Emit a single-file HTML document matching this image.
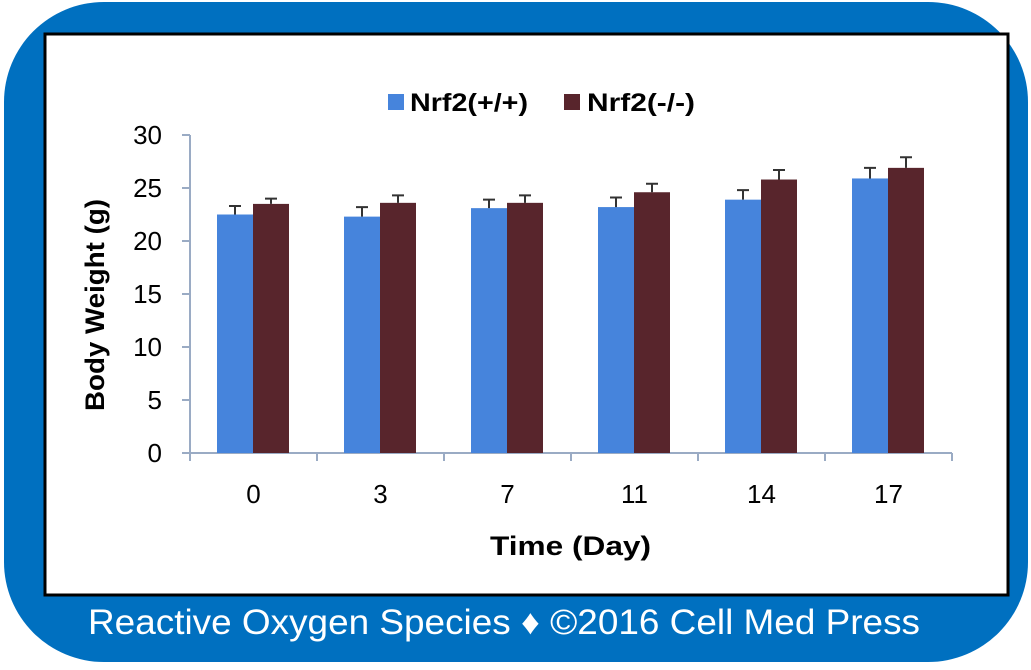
<!DOCTYPE html>
<html><head><meta charset="utf-8"><style>
body{margin:0;width:1031px;height:665px;background:#fff;overflow:hidden;font-family:"Liberation Sans",sans-serif}
</style></head><body>
<svg width="1031" height="665">
<rect x="4" y="2" width="1024" height="660" rx="100" fill="#0070c0"/>
<rect x="45" y="34" width="963" height="561" fill="#fff" stroke="#000" stroke-width="3"/>
<text x="88" y="634" textLength="832" lengthAdjust="spacingAndGlyphs" fill="#fff" font-size="35">Reactive Oxygen Species ♦ ©2016 Cell Med Press</text>
<g>
<rect x="388" y="94" width="16" height="16" fill="#4684dc"/>
<text x="410" y="111" textLength="118" lengthAdjust="spacingAndGlyphs" font-size="25" font-weight="bold" fill="#000">Nrf2(+/+)</text>
<rect x="564" y="94" width="16" height="16" fill="#58252c"/>
<text x="587" y="111" textLength="108" lengthAdjust="spacingAndGlyphs" font-size="25" font-weight="bold" fill="#000">Nrf2(-/-)</text>
</g>
<text transform="translate(104,305) rotate(-90)" text-anchor="middle" textLength="212" lengthAdjust="spacingAndGlyphs" font-size="27" font-weight="bold">Body Weight (g)</text>
<text x="490" y="555" textLength="161" lengthAdjust="spacingAndGlyphs" font-size="27" font-weight="bold">Time (Day)</text>
<g id="chart"></g>
</svg>
<script>
const categories=["0","3","7","11","14","17"];
const wtValues=[22.5,22.3,23.1,23.2,23.9,25.9];
const koValues=[23.5,23.6,23.6,24.6,25.8,26.9];
const wtErr=[0.8,0.9,0.8,0.9,0.9,1.0];
const koErr=[0.5,0.7,0.7,0.8,0.9,1.0];
const yTicks=[0,5,10,15,20,25,30];
const NS="http://www.w3.org/2000/svg";
const g=document.getElementById('chart');
const x0=190,x1=952,y0=453,yTop=135,yMax=30;
const gw=(x1-x0)/categories.length;
const y=v=>y0-(v/yMax)*(y0-yTop);
function mk(t,a){const e=document.createElementNS(NS,t);for(const k in a)e.setAttribute(k,a[k]);g.appendChild(e);return e;}
let e=mk('line',{x1:x0,y1:yTop,x2:x0,y2:y0,stroke:'#9aabc4','stroke-width':2});


e=mk('line',{x1:x0,y1:y0,x2:x1,y2:y0,stroke:'#9aabc4','stroke-width':2});


yTicks.forEach(t=>{
 let l=mk('line',{x1:x0-8,y1:y(t),x2:x0,y2:y(t),stroke:'#9aabc4','stroke-width':2});
 
 
 let tx=mk('text',{x:x0-28,y:y(t)+9,'text-anchor':'end','font-size':26});
 tx.textContent=t;
 
 
});
for(let i=0;i<=categories.length;i++){
 let l=mk('line',{x1:x0+i*gw,y1:y0,x2:x0+i*gw,y2:y0+8,stroke:'#9aabc4','stroke-width':2});
 
 
}
const bw=36,off=27;
categories.forEach((c,i)=>{
 const gx=x0+i*gw;
 let tx=mk('text',{x:gx+gw/2,y:y0+50,'text-anchor':'middle','font-size':26});
 tx.textContent=c;
 
 
 [[wtValues,wtErr,'#4684dc','wt'],[koValues,koErr,'#58252c','ko']].forEach((s,j)=>{
  const v=s[0][i],er=s[1][i],bx=gx+off+j*bw;
  let r=mk('rect',{x:bx,y:y(v),width:bw,height:y0-y(v),fill:s[2]});
  
  
  const cx=bx+bw/2;
  let el=mk('path',{d:`M${cx},${y(v)} V${y(v+er)} M${cx-6},${y(v+er)} H${cx+6}`,stroke:'#333','stroke-width':2,fill:'none'});
  
  
 });
});
</script>
</body></html>
